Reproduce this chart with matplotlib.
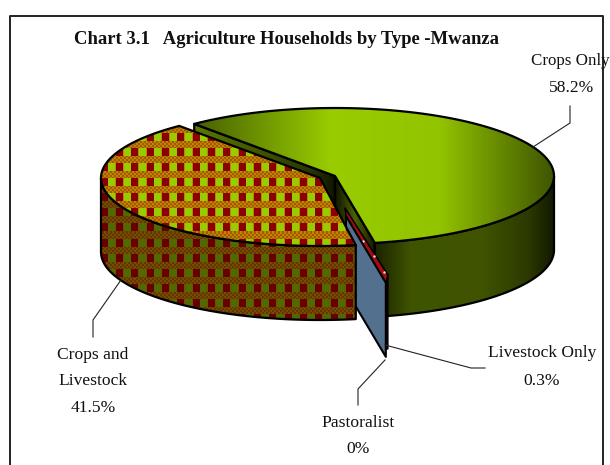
import numpy as np
import matplotlib
matplotlib.use('Agg')
import matplotlib.pyplot as plt
from matplotlib.patches import Polygon
from matplotlib.colors import LinearSegmentedColormap

title = 'Chart 3.1   Agriculture Households by Type -Mwanza'
categories = ['Crops Only', 'Crops and\nLivestock', 'Livestock Only', 'Pastoralist']
values = [58.2, 41.5, 0.3, 0]
value_labels = ['58.2%', '41.5%', '0.3%', '0%']

# pie geometry, in pixels of the picture
RX, RY, DEPTH = 219, 68, 74
START = 130
CENTERS = {'crops': (335, 176), 'both': (320, 178), 'live': (345, 208), 'past': (346, 216)}

plt.rcParams['font.family'] = ['Liberation Serif', 'DejaVu Serif']

fig = plt.figure(figsize=(6.1, 4.65), dpi=100)
ax = fig.add_axes([0, 0, 1, 1])
ax.axis('off')


def rim(center, t0, t1):
    t = np.radians(np.linspace(t0, t1, 120))
    return np.column_stack([center[0] + RX * np.cos(t), center[1] - RY * np.sin(t)])


def drop(pts):
    return pts + np.array([0, DEPTH])


def shape(pts, z, face='none', lw=1.6):
    p = Polygon(pts, closed=True, facecolor=face, edgecolor='black', lw=lw, zorder=z, joinstyle='round')
    ax.add_patch(p)
    return p


def gradient(pts, stops, x0, x1, z):
    cmap = LinearSegmentedColormap.from_list('g', stops)
    ys = [pts[:, 1].min() - 2, pts[:, 1].max() + 2]
    im = ax.imshow(np.linspace(0, 1, 256)[None, :], cmap=cmap, extent=(x0, x1, ys[1], ys[0]),
                   aspect='auto', zorder=z, interpolation='bilinear')
    im.set_clip_path(Polygon(pts, closed=True, transform=ax.transData))
    shape(pts, z + 0.1)


def plaid(red, lime, gold, brown):
    # red and lime squares between dithered bands, period about 15 pixels
    img = np.zeros((465, 610, 3), dtype=np.uint8)
    for r in range(465):
        for c in range(610):
            px = (c + 7) % 15.33
            py = (r + 1) % 15
            if py < 8:
                if px < 7:
                    img[r, c] = red
                elif 7.66 < px < 14.66:
                    img[r, c] = lime
                else:
                    img[r, c] = gold
            else:
                img[r, c] = gold if (r // 2 + c // 2) % 2 == 0 else brown
    return img


def pattern_fill(pts, colors, z):
    im = ax.imshow(plaid(*colors), extent=(0, 610, 465, 0), aspect='auto', zorder=z, interpolation='nearest')
    im.set_clip_path(Polygon(pts, closed=True, transform=ax.transData))
    shape(pts, z + 0.1)


# slice angles come from the values
sweeps = [v / 100 * 360 for v in values]
crops_t0, crops_t1 = START, START - sweeps[0]
both_t0, both_t1 = START, START + sweeps[1]
live_t0, live_t1 = both_t1, both_t1 + sweeps[2]
past_t = live_t1 + sweeps[3]

top_stops = [(0.0, '#465f00'), (0.38, '#99cc00'), (0.68, '#93c400'), (1.0, '#3f5600')]
side_stops = [(0.0, '#1a2200'), (0.2, '#3f5500'), (0.6, '#3f5300'), (0.85, '#2c3a00'), (1.0, '#121800')]
wall_stops = [(0.0, '#5a7a00'), (0.8, '#2a3800'), (1.0, '#0c1000')]

# Crops Only
c = np.array(CENTERS['crops'], dtype=float)
r = rim(c, crops_t0, 0)
back = np.array([r[0], c, drop(c), drop(r[0])])
gradient(back, wall_stops, r[0][0], c[0] + 4, 1)
front_edge = rim(c, crops_t1, crops_t1)[0]
cut = np.array([c, front_edge, drop(front_edge), drop(c)])
gradient(cut, ['#0e1300', '#4a6300', '#141a00'], c[0], front_edge[0], 1.2)
side_rim = rim(c, crops_t1, 0)
side = np.vstack([side_rim, drop(side_rim)[::-1]])
gradient(side, side_stops, front_edge[0], c[0] + RX, 1.4)
top = np.vstack([c, rim(c, crops_t0, crops_t1)])
gradient(top, top_stops, r[0][0], c[0] + RX, 2)

# Pastoralist wall position, needed for the edge of the red band
p = np.array(CENTERS['past'], dtype=float)
edge = rim(p, past_t, past_t)[0]

# Livestock Only
c = np.array(CENTERS['live'], dtype=float)
r = rim(c, live_t0, live_t1) + [3, 0]
side = np.vstack([r, drop(r)[::-1]])
shape(side, 3, '#7a0a0a', 1.1)
band = np.vstack([c, r[-1], edge, p])
shape(band, 3.2, '#a30d14', 1.1)
ax.scatter(c[0] + np.array([.05, .1, .42, .68, .9]) * (r[-1][0] - c[0]),
           c[1] + np.array([.16, .3, .5, .72, .95]) * (r[-1][1] - c[1]),
           s=3, c='#f0e0e0', linewidths=0, zorder=3.3)

# Pastoralist: no slice width, only its wall shows
shape(np.array([p, edge, drop(edge), drop(p)]), 4, '#54708f', 1.5)

# Crops and Livestock
top_colors = ((139, 0, 0), (153, 204, 0), (184, 134, 0), (170, 85, 0))
side_colors = ((105, 0, 0), (80, 105, 0), (110, 80, 0), (105, 50, 0))
c = np.array(CENTERS['both'], dtype=float)
side_rim = rim(c, 180, both_t1)
pattern_fill(np.vstack([side_rim, drop(side_rim)[::-1]]), side_colors, 5)
pattern_fill(np.vstack([c, rim(c, both_t0, both_t1)]), top_colors, 6)

# frame
ax.plot([10, 10, 603, 603], [470, 16, 16, 470], color='#222222', lw=1.4, zorder=8, clip_on=False)

# leader lines
lines = [[(570, 106), (570, 123), (533, 147)],
         [(93, 337), (93, 320), (121, 280)],
         [(385, 345), (471, 368), (485, 368)],
         [(385, 360), (358, 389), (358, 405)]]
for ln in lines:
    ax.plot(*zip(*ln), color='#222222', lw=0.8, zorder=7)

# labels
ax.text(286, 39, title, fontsize=13.4, fontweight='bold', ha='center', va='center', color='#111111', zorder=9)
fs = 12.6
ax.text(570, 61, categories[0], fontsize=12.2, ha='center', va='center', color='#111111', zorder=9)
ax.text(572, 88, value_labels[0], fontsize=fs, ha='center', va='center', color='#111111', zorder=9)
ax.text(93, 355, 'Crops and', fontsize=fs, ha='center', va='center', color='#111111', zorder=9)
ax.text(93, 381, 'Livestock', fontsize=fs, ha='center', va='center', color='#111111', zorder=9)
ax.text(93, 408, value_labels[1], fontsize=fs, ha='center', va='center', color='#111111', zorder=9)
ax.text(542, 353, categories[2], fontsize=fs, ha='center', va='center', color='#111111', zorder=9)
ax.text(542, 381, value_labels[2], fontsize=fs, ha='center', va='center', color='#111111', zorder=9)
ax.text(358, 423, categories[3], fontsize=fs, ha='center', va='center', color='#111111', zorder=9)
ax.text(358, 449, value_labels[3], fontsize=fs, ha='center', va='center', color='#111111', zorder=9)

ax.set_xlim(0, 610)
ax.set_ylim(465, 0)
fig.savefig('out.png', dpi=100)
